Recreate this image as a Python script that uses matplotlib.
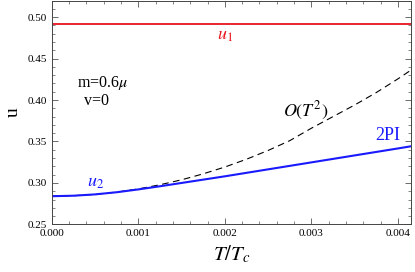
import numpy as np
import matplotlib
matplotlib.use('Agg')
import matplotlib.pyplot as plt
from matplotlib.ticker import MultipleLocator

plt.rcParams['font.family'] = ['Liberation Serif', 'DejaVu Serif']
plt.rcParams['mathtext.fontset'] = 'stix'

# values
T = [0.0, 0.00025, 0.0005, 0.00075, 0.001, 0.00125, 0.0015, 0.00175, 0.002,
     0.00225, 0.0025, 0.00275, 0.003, 0.00325, 0.0035, 0.00375, 0.004, 0.00415]
u_2pi = [0.2840, 0.2846, 0.2862, 0.2888, 0.2922, 0.2960, 0.3000, 0.3040, 0.3080,
         0.3122, 0.3164, 0.3206, 0.3248, 0.3290, 0.3332, 0.3374, 0.3416, 0.3442]
u_T2 = [0.2840, 0.2846, 0.2862, 0.2890, 0.2928, 0.2978, 0.3038, 0.3110, 0.3192,
        0.3286, 0.3392, 0.3510, 0.3660, 0.3800, 0.3940, 0.4090, 0.4255, 0.4360]
u1 = 0.492

fig = plt.figure(figsize=(4.15, 2.72), dpi=100)
ax = fig.add_axes([0.125, 0.175, 0.865, 0.823])

ax.axhline(u1, color='#e8141c', lw=1.3)
ax.plot(T, u_T2, color='black', lw=0.8, ls=(0, (6, 4)))
ax.plot(T, u_2pi, color='#1a1aff', lw=1.5)

ax.set_xlim(0, 0.00415)
ax.set_ylim(0.25, 0.52)
ax.xaxis.set_major_locator(MultipleLocator(0.001))
ax.xaxis.set_minor_locator(MultipleLocator(0.0002))
ax.yaxis.set_major_locator(MultipleLocator(0.05))
ax.yaxis.set_minor_locator(MultipleLocator(0.01))
ax.xaxis.set_major_formatter(plt.FormatStrFormatter('%.3f'))
ax.yaxis.set_major_formatter(plt.FormatStrFormatter('%.2f'))
ax.tick_params(which='both', direction='in', top=True, right=True, labelsize=8, color='#555555')
ax.tick_params(which='major', length=4, width=0.6)
ax.tick_params(which='minor', length=2, width=0.5)
for s in ax.spines.values():
    s.set_linewidth(0.7)
    s.set_color('#444444')

ax.set_xlabel('$T/T_c$', fontsize=15, labelpad=4)
ax.set_ylabel('u', fontsize=14, labelpad=4)

ax.text(0.002, 0.478, '$u_1$', color='#e8141c', fontsize=13, ha='center', va='center')
ax.text(0.0005, 0.301, '$u_2$', color='#1a1aff', fontsize=13, ha='center', va='center')
ax.text(0.00293, 0.387, r'$O(T^2)$', color='black', fontsize=13, ha='center', va='center')
ax.text(0.00388, 0.357, '2PI', color='#1a1aff', fontsize=13, ha='center', va='center')
ax.text(0.00029, 0.421, r'm=0.6$\mu$', fontsize=11.5, ha='left', va='center')
ax.text(0.00037, 0.399, 'v=0', fontsize=11.5, ha='left', va='center')

fig.savefig('out.png', dpi=100)
